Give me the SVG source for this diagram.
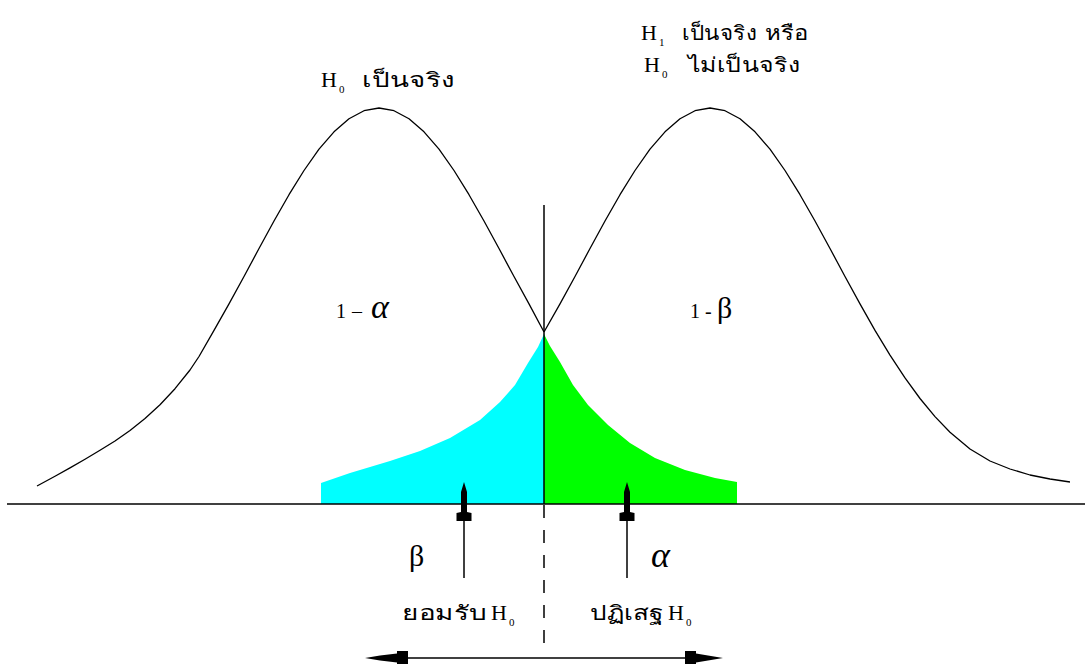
<svg xmlns="http://www.w3.org/2000/svg" width="1085" height="664" viewBox="0 0 1085 664">
<style>
.curve{fill:none;stroke:#000;stroke-width:1.3;stroke-linejoin:round}
.line{stroke:#000;stroke-width:1.5;fill:none}
.lat{font-family:"Liberation Serif",serif;fill:#000}
.th{font-family:"Liberation Serif","DejaVu Sans","Noto Sans",sans-serif;fill:#000;font-size:20px}
.sub{font-size:11px}
.head{fill:#000;stroke:none}
</style>
<rect width="1085" height="664" fill="#fff"/>
<g id="fill-beta"><polygon points="321,504 321,483 350,473 390,461 420,451 450,438 480,420 500,402 515,385 528,363 538,347 544,334 544,504" fill="#00FFFF"/></g>
<g id="fill-alpha"><polygon points="544,504 544,334 550,346 560,362 573,385 588,405 608,425 630,443 655,458 685,470 715,478 737,482 737,504" fill="#00FF00"/></g>
<g id="curve-h0"><polyline class="curve" points="37,486 55,476.3 70,467.9 85,459.2 100,450.2 115,441 130,430.5 145,418.5 160,404.7 175,388.7 190,370 199,356.5 214,330.4 229,303.9 244,276.5 259,248.5 274,221 289,194.7 304,170.5 319,149.2 334,131.8 349,118.7 364,110.7 379,108 394,110.7 409,118.7 424,131.8 439,149.2 454,170.5 469,194.7 484,221 499,248.5 514,276.5 529,303.9 544,332"/></g>
<g id="curve-h1"><polyline class="curve" points="544,332 560,303.9 575,276.5 590,248.5 605,221 620,194.7 635,170.5 650,149.2 665,131.8 680,118.7 695,110.7 710,108 725,110.7 740,118.7 755,131.8 770,149.2 785,170.5 800,194.7 815,221 830,248.5 845,276.5 860,303.9 875,330.4 890,355.1 905,377.9 920,398.5 935,416.6 950,432.3 970,449 990,461 1010,469 1030,475 1050,479 1070,482"/></g>
<g id="connectors">
<line class="line" x1="7" y1="504" x2="1085" y2="504"/>
<line class="line" x1="544" y1="205" x2="544" y2="504"/>
<line class="line" x1="544" y1="505" x2="544" y2="647" stroke-dasharray="13 12"/>
<line class="line" x1="464" y1="520" x2="464" y2="578"/>
<polygon class="head" points="464,482 467,492 467,512 471.5,513 471.5,521 456.5,521 456.5,513 461,512 461,492"/>
<line class="line" x1="627" y1="520" x2="627" y2="578"/>
<polygon class="head" points="627,482 630,492 630,512 634.5,513 634.5,521 619.5,521 619.5,513 624,512 624,492"/>
<line class="line" x1="405" y1="658" x2="688" y2="658"/>
<polygon class="head" points="365,658 380,655.5 397,653.5 397,651 408,651 408,665 397,665 397,662.5 380,660.5"/>
<polygon class="head" points="723,658 708,655.5 696,653.5 696,651 685,651 685,665 696,665 696,662.5 708,660.5"/>
</g>
<g id="label-h0">
<text class="lat" x="321" y="87" font-size="22">H</text><text class="lat sub" x="339" y="93">0</text>
<text class="th" x="362" y="87" textLength="93" lengthAdjust="spacingAndGlyphs">เป็นจริง</text>
</g>
<g id="label-h1">
<text class="lat" x="641" y="40" font-size="22">H</text><text class="lat sub" x="659" y="46">1</text>
<text class="th" x="682" y="40" textLength="75" lengthAdjust="spacingAndGlyphs">เป็นจริง</text>
<text class="th" x="765" y="40" textLength="43" lengthAdjust="spacingAndGlyphs">หรือ</text>
<text class="lat" x="644" y="72" font-size="22">H</text><text class="lat sub" x="662" y="78">0</text>
<text class="th" x="688" y="72" textLength="112" lengthAdjust="spacingAndGlyphs">ไม่เป็นจริง</text>
</g>
<g id="label-1-alpha">
<text class="lat" x="336" y="318" font-size="20">1</text>
<text class="lat" x="352" y="318" font-size="20">–</text>
<text class="lat" x="371" y="318" font-size="34" font-style="italic">α</text>
</g>
<g id="label-1-beta">
<text class="lat" x="690" y="318" font-size="20">1</text>
<text class="lat" x="705" y="318" font-size="20">-</text>
<text class="lat" x="717" y="318" font-size="30">β</text>
</g>
<g id="label-beta"><text class="lat" x="409" y="566" font-size="30">β</text></g>
<g id="label-alpha"><text class="lat" x="651" y="567" font-size="36" font-style="italic">α</text></g>
<g id="label-accept">
<text class="th" x="402" y="620" textLength="85" lengthAdjust="spacingAndGlyphs">ยอมรับ</text>
<text class="lat" x="491" y="620" font-size="22">H</text><text class="lat sub" x="509" y="626">0</text>
</g>
<g id="label-reject">
<text class="th" x="590" y="620" textLength="73" lengthAdjust="spacingAndGlyphs">ปฏิเสฐ</text>
<text class="lat" x="668" y="620" font-size="22">H</text><text class="lat sub" x="686" y="626">0</text>
</g>
</svg>
